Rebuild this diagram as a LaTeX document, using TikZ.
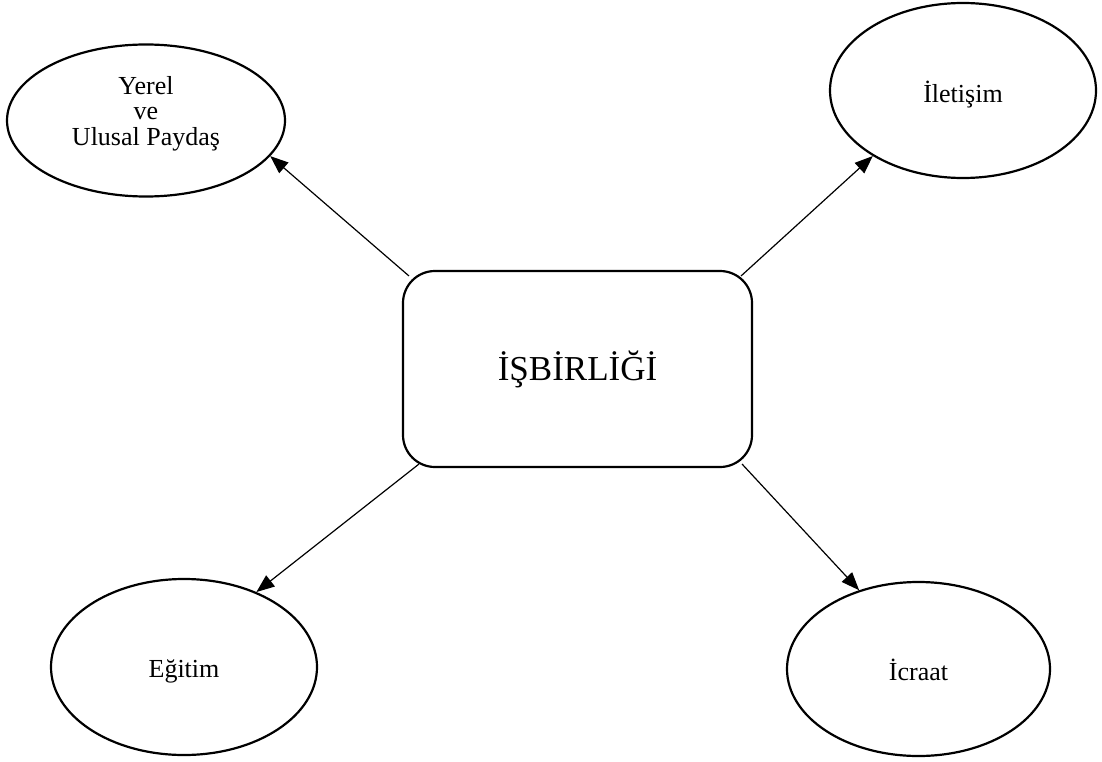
\documentclass[tikz,border=0pt]{standalone}
\usepackage{fontspec}
\setmainfont{Liberation Serif}
\usetikzlibrary{shapes.geometric,arrows.meta}
\newcommand{\nudge}[2]{\raisebox{#1}[\height][\depth]{#2}}
\begin{document}
\begin{tikzpicture}[x=1pt,y=-1pt,
  oval/.style={draw,ellipse,line width=2.2pt,inner sep=0pt,align=center,font=\fontsize{26}{26}\selectfont},
  hub/.style={draw,rectangle,rounded corners=32pt,line width=2.2pt,minimum width=349pt,minimum height=196pt,inner sep=0pt,font=\fontsize{35}{38}\selectfont},
  link/.style={line width=1.2pt,-{Triangle[length=18pt,width=14pt]}}]
\useasboundingbox (0,0) rectangle (1102,762);
\node[hub] (box) at (577.5,369) {İŞBİRLİĞİ};
\node[oval,minimum width=278pt,minimum height=152pt] (e1) at (146,120.5)
  {\nudge{6pt}{\def\arraystretch{0.96}\begin{tabular}{@{}c@{}}Yerel\\ve\\Ulusal Paydaş\end{tabular}}};
\node[oval,minimum width=266pt,minimum height=175pt] (e2) at (963,90.5) {\nudge{-4pt}{İletişim}};
\node[oval,minimum width=266pt,minimum height=176pt] (e3) at (184,667) {\nudge{-4pt}{Eğitim}};
\node[oval,minimum width=263pt,minimum height=174pt] (e4) at (918.5,669) {\nudge{-1pt}{İcraat}};
\draw[link] ([shift={(7,6)}]box.north west) -- (e1.-16.4);
\draw[link] ([shift={(-12,6)}]box.north east) -- (e2.216.8);
\draw[link] ([shift={(17,-4)}]box.south west) -- (e3.46.4);
\draw[link] ([shift={(-11,-4)}]box.south east) -- (e4.127.1);
\end{tikzpicture}
\end{document}
